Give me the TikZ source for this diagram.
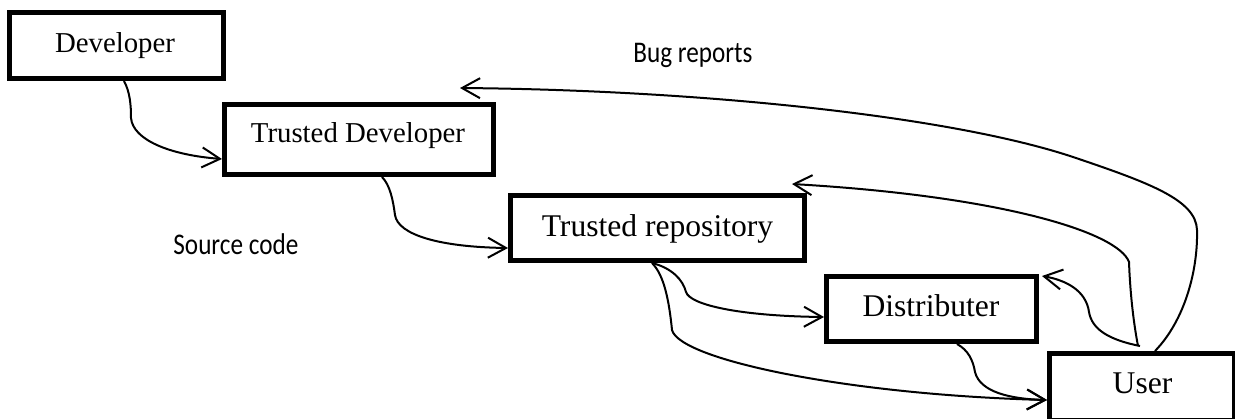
\documentclass[tikz,border=0pt]{standalone}
\usepackage{fontspec}
\setmainfont{Liberation Serif}
\newfontfamily\notefont[FakeStretch=0.84]{Carlito}
\usetikzlibrary{arrows.meta,calc}
\begin{document}
\begin{tikzpicture}[x=0.5pt,y=-0.5pt,
  box/.style={draw, line width=2.5pt, rectangle, inner sep=0pt},
  smalltext/.style={anchor=base, inner sep=0pt, font=\fontsize{14.4pt}{16pt}\selectfont},
  bigtext/.style={anchor=base, inner sep=0pt, font=\fontsize{15.8pt}{18pt}\selectfont},
  note/.style={anchor=base west, inner sep=0pt, font=\notefont\fontsize{15pt}{17pt}\selectfont},
  flow/.style={line width=1pt, -{Straight Barb[length=9pt,width=10pt]}}]
\useasboundingbox (0,0) rectangle (1235,418);

% boxes
\node[box, minimum width=107pt,   minimum height=33pt]   (dev)   at (116.5,45.5) {};
\node[box, minimum width=134.5pt, minimum height=35pt]   (tdev)  at (359,139.5)  {};
\node[box, minimum width=147pt,   minimum height=32.5pt] (trepo) at (657.5,228)  {};
\node[box, minimum width=105pt,   minimum height=32.5pt] (dist)  at (931.5,309)  {};
\node[box, minimum width=92.5pt,  minimum height=33.5pt] (user)  at (1142,387)   {};

% box captions
\node[smalltext] (devlbl)   at (115,52)    {Developer};
\node[smalltext] (tdevlbl)  at (358,142)   {Trusted Developer};
\node[bigtext]   (trepolbl) at (657.5,236) {Trusted repository};
\node[bigtext]   (distlbl)  at (931,316)   {Distributer};
\node[bigtext]   (userlbl)  at (1142.5,393) {User};

% free captions
\node[note] (bugs)   at (633,62)  {Bug reports};
\node[note] (source) at (173,254) {Source code};

% source code flow
\draw[flow] ($(dev.south)+(7.5,0)$) .. controls (130,92) and (131,105) .. (131,118)
  .. controls (133,140) and (170,155) .. ($(tdev.west)+(0,19.5)$);
\draw[flow] ($(tdev.south)+(23,0)$) .. controls (390,185) and (393,200) .. (395,215)
  .. controls (398,235) and (440,247) .. ($(trepo.west)+(0,20)$);
\draw[flow] ($(trepo.south)+(-5.5,0)$) .. controls (672,268) and (683,280) .. (686,292)
  .. controls (690,305) and (740,316) .. ($(dist.west)+(0,8)$);
\draw[flow] ($(trepo.south)+(-5.5,0)$) .. controls (664,275) and (669,300) .. (672,330)
  .. controls (680,360) and (850,395) .. ($(user.west)+(0,13)$);
\draw[flow] ($(dist.south)+(25.5,0)$) .. controls (968,350) and (973,360) .. (975,372)
  .. controls (980,392) and (1010,399) .. ($(user.west)+(0,13)$);

% bug report flow
\draw[flow] ($(user.north)+(-2,-5)$) .. controls (1110,340) and (1092,330) .. (1089,312)
  .. controls (1086,290) and (1065,280) .. ($(dist.north east)+(3,2)$);
\draw[flow] ($(user.north)+(-4,-5)$) .. controls (1133,320) and (1130,290) .. (1129,262)
  .. controls (1118,232) and (1000,196) .. ($(trepo.north east)+(-15,-9)$);
\draw[flow] ($(user.north)+(13,0)$) .. controls (1185,320) and (1198,270) .. (1197,230)
  .. controls (1196,200) and (1150,183) .. (1073,157)
  .. controls (950,116) and (700,90) .. ($(tdev.north east)+(-36,-14)$);
\end{tikzpicture}
\end{document}
